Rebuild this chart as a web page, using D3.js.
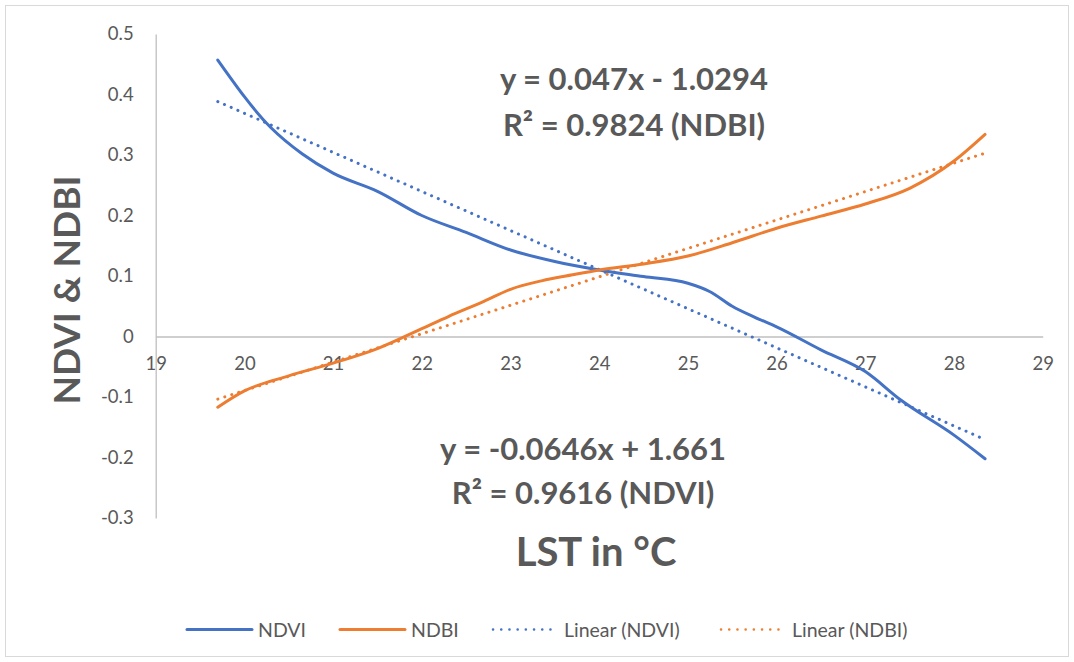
<!DOCTYPE html>
<html lang="en">
  <head>
    <meta charset="UTF-8" />
    <title>NDVI & NDBI vs LST</title>
    <style>
      body { margin: 0; background: #fff; }
      text { font-family: Lato, "Open Sans", sans-serif; fill: #595959; }
    </style>
  </head>
  <body>
    <svg id="chart"></svg>
  </body>
</html>

<script src="https://cdnjs.cloudflare.com/ajax/libs/d3/7.8.5/d3.min.js"></script>

<script>
  // data
  const ndviX = [19.7, 20.3, 20.65, 21, 21.5, 22, 22.5, 23, 23.5, 24, 24.5, 25, 25.25, 25.5, 25.75, 26, 26.5, 27, 27.4, 28, 28.35];
  const ndviY = [0.457, 0.345, 0.302, 0.27, 0.24, 0.2, 0.172, 0.143, 0.124, 0.11, 0.099, 0.088, 0.074, 0.05, 0.032, 0.016, -0.022, -0.058, -0.105, -0.163, -0.202];

  const ndbiX = [19.7, 20, 20.5, 21, 21.5, 22, 22.3, 22.7, 23, 23.35, 23.7, 24, 24.5, 25, 25.5, 26, 26.5, 27, 27.5, 28, 28.35];
  const ndbiY = [-0.117, -0.09, -0.065, -0.044, -0.02, 0.013, 0.033, 0.058, 0.078, 0.092, 0.102, 0.11, 0.12, 0.133, 0.155, 0.179, 0.199, 0.219, 0.245, 0.29, 0.334];

  // trendline coefficients from the labels
  const ndviTrend = [-0.0646, 1.661];
  const ndbiTrend = [0.047, -1.0294];

  const xTicks = [19, 20, 21, 22, 23, 24, 25, 26, 27, 28, 29];
  const yTicks = [-0.3, -0.2, -0.1, 0, 0.1, 0.2, 0.3, 0.4, 0.5];

  const legendNames = ["NDVI", "NDBI", "Linear (NDVI)", "Linear (NDBI)"];

  const width = 1074, height = 662;
  const blue = "#4472C4", orange = "#ED7D31", grey = "#595959", axisGrey = "#BFBFBF";

  const svg = d3.select("#chart").attr("width", width).attr("height", height);

  // outer border
  svg.append("rect")
    .attr("x", 5.5).attr("y", 5.5)
    .attr("width", 1063).attr("height", 651)
    .attr("fill", "#fff").attr("stroke", "#D9D9D9");

  const x = d3.scaleLinear().domain([19, 29]).range([155.7, 1042.7]);
  const y = d3.scaleLinear().domain([-0.3, 0.5]).range([518, 34]);

  // y axis
  const yAxis = svg.append("g")
    .attr("transform", `translate(${x(19)},0)`)
    .call(d3.axisLeft(y).tickValues(yTicks).tickSize(0).tickSizeOuter(0).tickPadding(22)
      .tickFormat((d) => String(+d.toFixed(1))));
  yAxis.select(".domain").attr("stroke", axisGrey).attr("stroke-width", 1.3);
  yAxis.selectAll("text").style("font-size", "18.5px").attr("fill", grey).attr("font-family", "Lato, sans-serif");

  // x axis through zero
  const xAxis = svg.append("g")
    .attr("transform", `translate(0,${y(0)})`)
    .call(d3.axisBottom(x).tickValues(xTicks).tickSize(0).tickSizeOuter(0).tickPadding(20));
  xAxis.select(".domain").attr("stroke", axisGrey).attr("stroke-width", 1.3);
  xAxis.selectAll("text").style("font-size", "18.5px").attr("fill", grey).attr("font-family", "Lato, sans-serif");

  const line = d3.line().x((d) => x(d[0])).y((d) => y(d[1])).curve(d3.curveMonotoneX);
  const straight = d3.line().x((d) => x(d[0])).y((d) => y(d[1]));

  function trend(coef, xs) {
    const x0 = d3.min(xs), x1 = d3.max(xs);
    return [[x0, coef[0] * x0 + coef[1]], [x1, coef[0] * x1 + coef[1]]];
  }

  const dotted = (sel, color) =>
    sel.attr("fill", "none").attr("stroke", color).attr("stroke-width", 3)
      .attr("stroke-linecap", "round").attr("stroke-dasharray", "0.1 7.2");

  // trendlines
  svg.append("path").datum(trend(ndviTrend, ndviX)).attr("d", straight).call(dotted, blue);
  svg.append("path").datum(trend(ndbiTrend, ndbiX)).attr("d", straight).call(dotted, orange);

  // series
  svg.append("path").datum(ndviX.map((v, i) => [v, ndviY[i]])).attr("d", line)
    .attr("fill", "none").attr("stroke", blue).attr("stroke-width", 3).attr("stroke-linecap", "round");
  svg.append("path").datum(ndbiX.map((v, i) => [v, ndbiY[i]])).attr("d", line)
    .attr("fill", "none").attr("stroke", orange).attr("stroke-width", 3).attr("stroke-linecap", "round");

  // equation labels
  const eq = svg.append("g").attr("font-weight", "bold").attr("font-size", "31px").attr("text-anchor", "middle");
  eq.append("text").attr("x", 634).attr("y", 90).text("y = 0.047x - 1.0294");
  eq.append("text").attr("x", 634).attr("y", 136).text("R² = 0.9824 (NDBI)");
  eq.append("text").attr("x", 583).attr("y", 460).text("y = -0.0646x + 1.661");
  eq.append("text").attr("x", 583).attr("y", 504).text("R² = 0.9616 (NDVI)");

  // axis titles
  svg.append("text").attr("x", 596).attr("y", 566).attr("text-anchor", "middle")
    .attr("font-weight", "bold").attr("font-size", "40px").text("LST in °C");
  svg.append("text").attr("transform", "translate(80,290) rotate(-90)").attr("text-anchor", "middle")
    .attr("font-weight", "bold").attr("font-size", "37px").text("NDVI & NDBI");

  // legend
  const legendX = [187, 340, 493, 721];
  const legendColor = [blue, orange, blue, orange];
  const lg = svg.append("g").selectAll("g").data(legendNames).join("g")
    .attr("transform", (d, i) => `translate(${legendX[i]},629.5)`);
  lg.append("line").attr("x1", 0).attr("x2", 65).attr("y1", 0).attr("y2", 0)
    .attr("stroke", (d, i) => legendColor[i])
    .each(function (d, i) {
      if (i < 2) d3.select(this).attr("stroke-width", 3).attr("stroke-linecap", "round");
      else d3.select(this).attr("stroke-width", 2.5).attr("stroke-linecap", "round").attr("stroke-dasharray", "0.1 8.1");
    });
  lg.append("text").attr("x", 71).attr("y", 7).attr("font-size", "19.5px").text((d) => d);
</script>
